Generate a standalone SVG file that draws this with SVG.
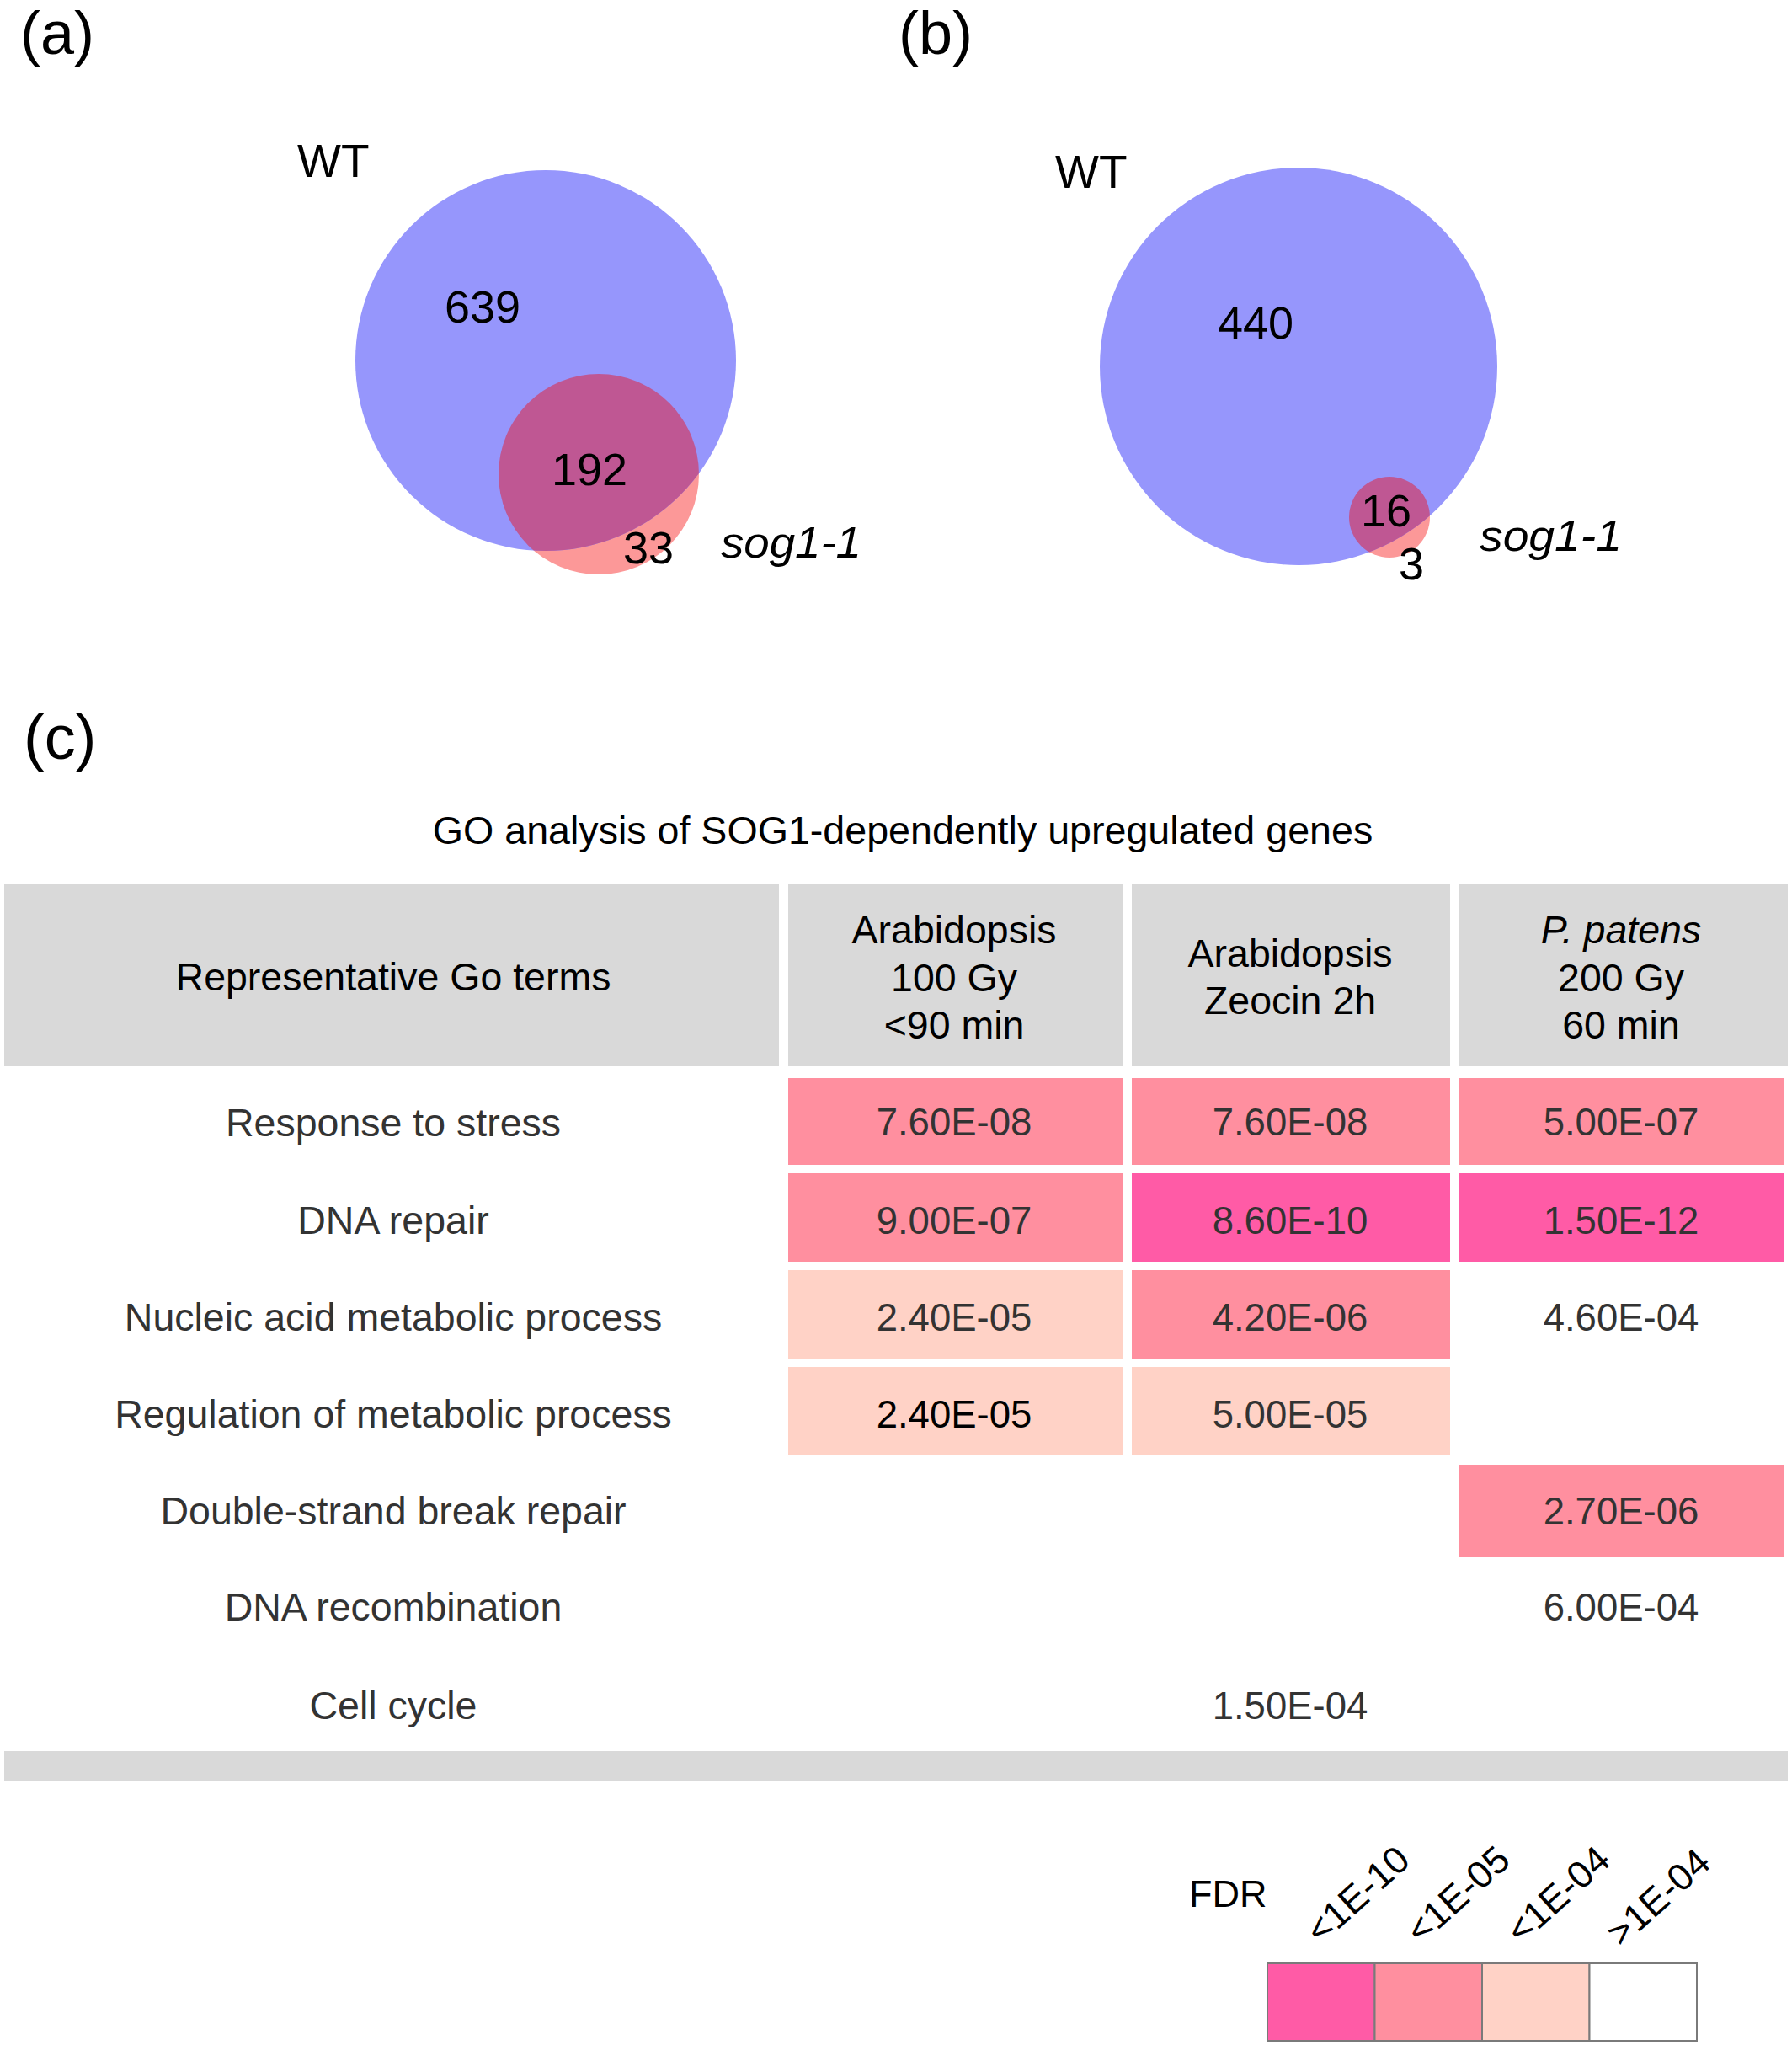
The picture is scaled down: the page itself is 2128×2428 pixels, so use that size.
<svg xmlns="http://www.w3.org/2000/svg" width="2128" height="2428" viewBox="0 0 2128 2428">
<style>
text{font-family:"Liberation Sans",Arial,Helvetica,sans-serif;}
.lab{font-size:72px;fill:#000;}
.venn{font-size:54px;fill:#000;text-anchor:middle;}
.set{font-size:55px;fill:#000;}
.sog{font-size:52px;font-style:italic;fill:#000;}
.title{font-size:46.6px;fill:#000;text-anchor:middle;}
.hdr{fill:#d9d9d9;}
.htxt{font-size:46.5px;fill:#000;text-anchor:middle;}
.row{font-size:46.5px;fill:#333;text-anchor:middle;}
.val{font-size:45.5px;fill:#333;text-anchor:middle;}
.c1{fill:#ff5ba6;}
.c2{fill:#ff8f9f;}
.c3{fill:#ffd2c6;}
.c4{fill:#ffffff;}
.lg{stroke:#7a7a7a;stroke-width:2;}
.ltxt{font-size:45px;fill:#000;}
.blue{fill:#9696fc;}
.pink{fill:#fc9898;}
.purple{fill:#bf5793;}
</style>
<defs>
<clipPath id="clipA"><circle cx="648" cy="428" r="226"/></clipPath>
<clipPath id="clipB"><circle cx="1542" cy="435" r="236"/></clipPath>
</defs>
<rect width="2128" height="2428" fill="#fff"/>

<g id="panel-a">
<text class="lab" x="24" y="64">(a)</text>
<text class="set" x="353" y="210">WT</text>
<circle class="pink" cx="711" cy="563" r="119"/>
<circle class="blue" cx="648" cy="428" r="226"/>
<circle class="purple" cx="711" cy="563" r="119" clip-path="url(#clipA)"/>
<text class="venn" x="573" y="383">639</text>
<text class="venn" x="700" y="576">192</text>
<text class="venn" x="770" y="669">33</text>
<text class="sog" x="856" y="662" textLength="167" lengthAdjust="spacingAndGlyphs">sog1-1</text>
</g>

<g id="panel-b">
<text class="lab" x="1067" y="64">(b)</text>
<text class="set" x="1253" y="223">WT</text>
<circle class="pink" cx="1650" cy="614" r="48"/>
<circle class="blue" cx="1542" cy="435" r="236"/>
<circle class="purple" cx="1650" cy="614" r="48" clip-path="url(#clipB)"/>
<text class="venn" x="1491" y="402">440</text>
<text class="venn" x="1646" y="625">16</text>
<text class="venn" x="1676" y="688">3</text>
<text class="sog" x="1757" y="654" textLength="169" lengthAdjust="spacingAndGlyphs">sog1-1</text>
</g>

<g id="panel-c">
<text class="lab" x="28" y="901" style="font-size:74px">(c)</text>
<text class="title" x="1072" y="1002">GO analysis of SOG1-dependently upregulated genes</text>

<g id="header">
<rect class="hdr" x="5" y="1050" width="920" height="216"/>
<rect class="hdr" x="936" y="1050" width="397" height="216"/>
<rect class="hdr" x="1344" y="1050" width="378" height="216"/>
<rect class="hdr" x="1732" y="1050" width="391" height="216"/>
<text class="htxt" x="467" y="1176">Representative Go terms</text>
<text class="htxt" x="1133" y="1120">Arabidopsis</text>
<text class="htxt" x="1133" y="1177">100 Gy</text>
<text class="htxt" x="1133" y="1233">&lt;90 min</text>
<text class="htxt" x="1532" y="1148">Arabidopsis</text>
<text class="htxt" x="1532" y="1204">Zeocin 2h</text>
<text class="htxt" x="1925" y="1120" style="font-style:italic">P. patens</text>
<text class="htxt" x="1925" y="1177">200 Gy</text>
<text class="htxt" x="1925" y="1233">60 min</text>
</g>

<g id="row-1">
<rect class="c2" x="936" y="1280" width="397" height="103"/>
<rect class="c2" x="1344" y="1280" width="378" height="103"/>
<rect class="c2" x="1732" y="1280" width="386" height="103"/>
<text class="row" x="467" y="1349">Response to stress</text>
<text class="val" x="1133" y="1348">7.60E-08</text>
<text class="val" x="1532" y="1348">7.60E-08</text>
<text class="val" x="1925" y="1348">5.00E-07</text>
</g>
<g id="row-2">
<rect class="c2" x="936" y="1393" width="397" height="105"/>
<rect class="c1" x="1344" y="1393" width="378" height="105"/>
<rect class="c1" x="1732" y="1393" width="386" height="105"/>
<text class="row" x="467" y="1465">DNA repair</text>
<text class="val" x="1133" y="1465">9.00E-07</text>
<text class="val" x="1532" y="1465">8.60E-10</text>
<text class="val" x="1925" y="1465">1.50E-12</text>
</g>
<g id="row-3">
<rect class="c3" x="936" y="1508" width="397" height="105"/>
<rect class="c2" x="1344" y="1508" width="378" height="105"/>
<text class="row" x="467" y="1580">Nucleic acid metabolic process</text>
<text class="val" x="1133" y="1580">2.40E-05</text>
<text class="val" x="1532" y="1580">4.20E-06</text>
<text class="val" x="1925" y="1580">4.60E-04</text>
</g>
<g id="row-4">
<rect class="c3" x="936" y="1623" width="397" height="105"/>
<rect class="c3" x="1344" y="1623" width="378" height="105"/>
<text class="row" x="467" y="1695">Regulation of metabolic process</text>
<text class="val" x="1133" y="1695" style="fill:#000">2.40E-05</text>
<text class="val" x="1532" y="1695">5.00E-05</text>
</g>
<g id="row-5">
<rect class="c2" x="1732" y="1739" width="386" height="110"/>
<text class="row" x="467" y="1810">Double-strand break repair</text>
<text class="val" x="1925" y="1810">2.70E-06</text>
</g>
<g id="row-6">
<text class="row" x="467" y="1924">DNA recombination</text>
<text class="val" x="1925" y="1924">6.00E-04</text>
</g>
<g id="row-7">
<text class="row" x="467" y="2041">Cell cycle</text>
<text class="val" x="1532" y="2041">1.50E-04</text>
</g>
<rect id="table-bottom" class="hdr" x="5" y="2079" width="2118" height="36"/>
</g>

<g id="legend">
<text x="1412" y="2264" style="font-size:45px;fill:#000">FDR</text>
<text class="ltxt" transform="translate(1568,2310) rotate(-42)">&lt;1E-10</text>
<text class="ltxt" transform="translate(1687,2310) rotate(-42)">&lt;1E-05</text>
<text class="ltxt" transform="translate(1806,2310) rotate(-42)">&lt;1E-04</text>
<text class="ltxt" transform="translate(1925,2313) rotate(-42)">&gt;1E-04</text>
<rect class="c1 lg" x="1505" y="2331" width="127.5" height="92"/>
<rect class="c2 lg" x="1632.5" y="2331" width="127.5" height="92"/>
<rect class="c3 lg" x="1760" y="2331" width="127.5" height="92"/>
<rect class="c4 lg" x="1887.5" y="2331" width="127.5" height="92"/>
</g>
</svg>
